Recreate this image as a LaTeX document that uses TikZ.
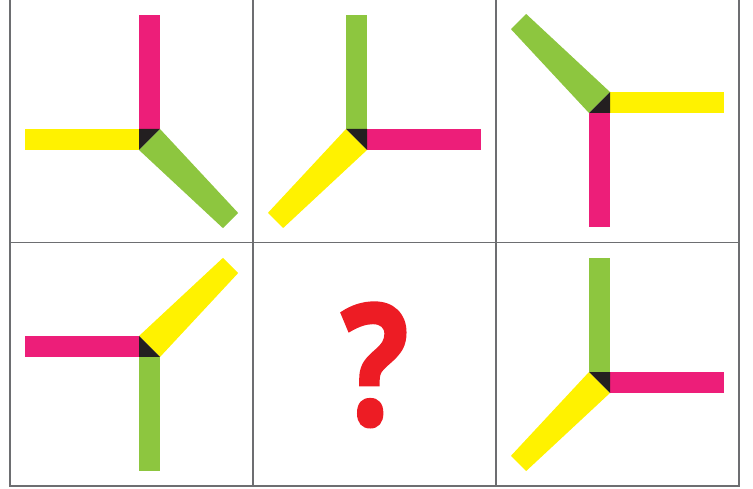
\documentclass[tikz,border=0pt]{standalone}
\usepackage{fontspec}
\setmainfont{Open Sans}
\newfontfamily\qfont[FakeBold=1.5]{Open Sans Bold}
\usepackage{tikz}
\definecolor{my_gray}{HTML}{6D6E71}
\definecolor{my_pink}{HTML}{ED1E79}
\definecolor{my_yellow}{HTML}{FFF200}
\definecolor{my_green}{HTML}{8DC63F}
\definecolor{my_black}{HTML}{231F20}
\definecolor{my_red}{HTML}{ED1C24}

\begin{document}
\begin{tikzpicture}[x=1pt, y=1pt]
\useasboundingbox (0,0) rectangle (753,488);

% -------- Grid (2 x 3 cells, open at the top) ---------------
\draw[my_gray, line width=1.5pt] (10,488) -- (10,2) -- (739,2) -- (739,488);
\draw[my_gray, line width=1.5pt] (10,245.5) -- (739,245.5);
\foreach \x in {253,496} {
    \draw[my_gray, line width=1.5pt] (\x,2) -- (\x,488);
}

% -------- Spinners: arm a, arm b, diagonal arm --------------
% local x runs along arm a, local y along arm b
\foreach \cx/\cy/\ax/\ay/\bx/\by/\ca/\cb/\cd in {
    149.5/348.5/0/1/-1/0/my_pink/my_yellow/my_green,
    356.5/348.5/0/1/1/0/my_green/my_pink/my_yellow,
    599.5/385.5/1/0/0/-1/my_yellow/my_pink/my_green,
    149.5/141.5/-1/0/0/-1/my_pink/my_green/my_yellow,
    599.5/105.5/0/1/1/0/my_green/my_pink/my_yellow} {
  \begin{scope}[cm={\ax,\ay,\bx,\by,(\cx,\cy)}]
    % straight arms
    \fill[\ca] (10.5,-10.5) rectangle (124.5,10.5);
    \fill[\cb] (-10.5,10.5) rectangle (10.5,124.5);
    % diagonal arm, a little narrower at its free end
    \fill[\cd] (10.5,-10.5) -- (-73.4,-88.6) -- (-88.6,-73.4)
        -- (-10.5,10.5) -- cycle;
    % black half of the hub
    \fill[my_black] (10.5,10.5) -- (10.5,-10.5) -- (-10.5,10.5) -- cycle;
  \end{scope}
}

% -------- Missing cell --------------------------------------
\node[my_red, anchor=base, inner sep=0pt, xscale=0.84] (qmark) at (375,63)
    {\fontsize{169}{169}\qfont ?};

\end{tikzpicture}
\end{document}
